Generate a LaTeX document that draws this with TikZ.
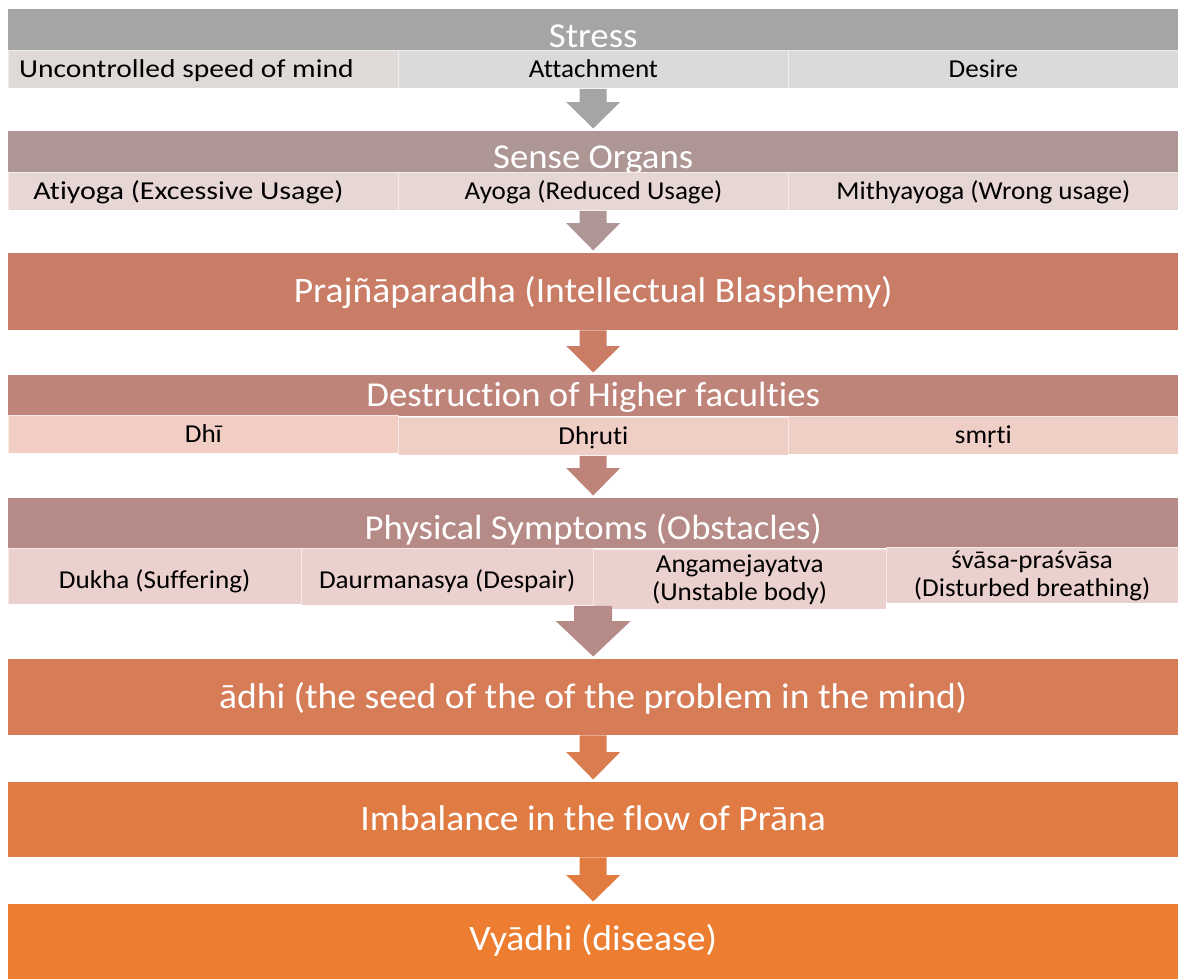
\documentclass[tikz,border=0pt]{standalone}
\usepackage{fontspec}
\usepackage{graphicx}
\setmainfont{Carlito}[FakeStretch=1.05, Ligatures=CommonOff]
\usetikzlibrary{calc}

\definecolor{stressC}{HTML}{A5A5A5}
\definecolor{stressSubA}{HTML}{DFDAD8}
\definecolor{stressSub}{HTML}{DADADA}
\definecolor{senseC}{HTML}{AD9694}
\definecolor{senseSub}{HTML}{E6D6D4}
\definecolor{prajC}{HTML}{C97C66}
\definecolor{prajArrow}{HTML}{CA7C65}
\definecolor{destrC}{HTML}{BF8479}
\definecolor{destrSub}{HTML}{F2CDC4}
\definecolor{destrSubB}{HTML}{EFCEC6}
\definecolor{physC}{HTML}{B68B87}
\definecolor{physSub}{HTML}{EBD1CE}
\definecolor{adhiC}{HTML}{D67C57}
\definecolor{adhiArrow}{HTML}{D97C50}
\definecolor{pranaC}{HTML}{E07B43}
\definecolor{pranaArrow}{HTML}{E27B3F}
\definecolor{vyadhiC}{HTML}{ED7D31}

% block arrow: colour, start anchor, end anchor, half shaft, half head, head base above end
\newcommand{\flowarrow}[6]{%
  \fill[#1] ($(#3 |- #2)+(-#4,0)$) -- ($(#3 |- #2)+(#4,0)$)
    -- ($(#3)+(#4,-#6)$) -- ($(#3)+(#5,-#6)$) -- ($(#3)+(0,-2.5)$)
    -- ($(#3)+(-#5,-#6)$) -- ($(#3)+(-#4,-#6)$) -- cycle;}
% wider lettering for the first column, set a little left of centre
\newcommand{\widetext}[3]{\scalebox{#1}[1]{#3}\hspace*{#2pt}}

\begin{document}
\begin{tikzpicture}[x=1pt,y=-1pt,
  bar/.style={rectangle, inner sep=0pt, anchor=north west, minimum width=1170pt,
    text=white, font=\fontsize{35}{40}\selectfont, text depth=0pt},
  big/.style={bar, font=\fontsize{35.8}{42}\selectfont, text height=22pt},
  sub/.style={rectangle, inner sep=0pt, anchor=north west, text=black,
    font=\fontsize{25.8}{28}\selectfont, draw=white, draw opacity=0.55, line width=0.8pt},
  sub3/.style={sub, minimum width=390pt, minimum height=38pt, text height=16pt, text depth=0pt},
  sub4/.style={sub, minimum width=292.5pt, align=center}
]
\useasboundingbox (0,0) rectangle (1178,978);

% Stress
\node[bar, fill=stressC, minimum height=41pt, text height=35pt] (stress) at (8,9) {Stress};
\node[sub3, fill=stressSubA] (s1) at (8,50) {\widetext{1.09}{34}{Uncontrolled speed of mind}};
\node[sub3, fill=stressSub] (s2) at (398,50) {Attachment};
\node[sub3, fill=stressSub] (s3) at (788,50) {Desire};

% Sense organs
\node[bar, fill=senseC, minimum height=41pt, text height=33pt] (sense) at (8,131) {Sense Organs};
\node[sub3, fill=senseSub] (o1) at (8,172) {\widetext{1.11}{30}{Atiyoga (Excessive Usage)}};
\node[sub3, fill=senseSub] (o2) at (398,172) {Ayoga (Reduced Usage)};
\node[sub3, fill=senseSub] (o3) at (788,172) {Mithyayoga (Wrong usage)};

% Prajnaparadha
\node[big, fill=prajC, minimum height=77pt] (praj) at (8,253) {Prajñāparadha (Intellectual Blasphemy)};

% Higher faculties
\node[bar, fill=destrC, minimum height=41pt, text height=21pt] (destr) at (8,375) {Destruction of Higher faculties};
\node[sub3, fill=destrSub] (f1) at (8,415) {Dhī};
\node[sub3, fill=destrSubB] (f2) at (398,417) {Dhṛuti};
\node[sub3, fill=destrSubB] (f3) at (788,416) {smṛti};

% Physical symptoms
\node[bar, fill=physC, minimum height=50pt, text height=32pt] (phys) at (8,498) {Physical Symptoms (Obstacles)};
\node[sub4, fill=physSub, minimum height=56pt, text height=24pt, text depth=0pt] (p1) at (8,548) {Dukha (Suffering)};
\node[sub4, fill=physSub, minimum height=57pt, text height=24pt, text depth=0pt] (p2) at (300.5,548) {Daurmanasya (Despair)};
\node[sub4, fill=physSub, minimum height=60pt] (p3) at (593,549) {Angamejayatva\\(Unstable body)};
\node[sub4, fill=physSub, minimum height=56pt] (p4) at (885.5,547) {śvāsa-praśvāsa\\(Disturbed breathing)};

% Lower chain
\node[big, fill=adhiC, minimum height=76pt] (adhi) at (8,659) {ādhi (the seed of the of the problem in the mind)};
\node[big, fill=pranaC, minimum height=75pt] (prana) at (8,782) {Imbalance in the flow of Prāna};
\node[big, fill=vyadhiC, minimum height=75pt, text height=18pt] (vyadhi) at (8,904) {Vyādhi (disease)};

% Connecting arrows
\flowarrow{stressC}{s2.south}{sense.north}{13.5}{27}{29}
\flowarrow{senseC}{o2.south}{praj.north}{13.5}{27}{30}
\flowarrow{prajArrow}{praj.south}{destr.north}{13.5}{27}{29}
\flowarrow{destrC}{f2.south}{phys.north}{13.5}{27}{30}
\flowarrow{physC}{p2.south}{adhi.north}{19}{37.5}{38}
\flowarrow{adhiArrow}{adhi.south}{prana.north}{13.5}{27}{30}
\flowarrow{pranaArrow}{prana.south}{vyadhi.north}{13.5}{27}{29}
\end{tikzpicture}
\end{document}
